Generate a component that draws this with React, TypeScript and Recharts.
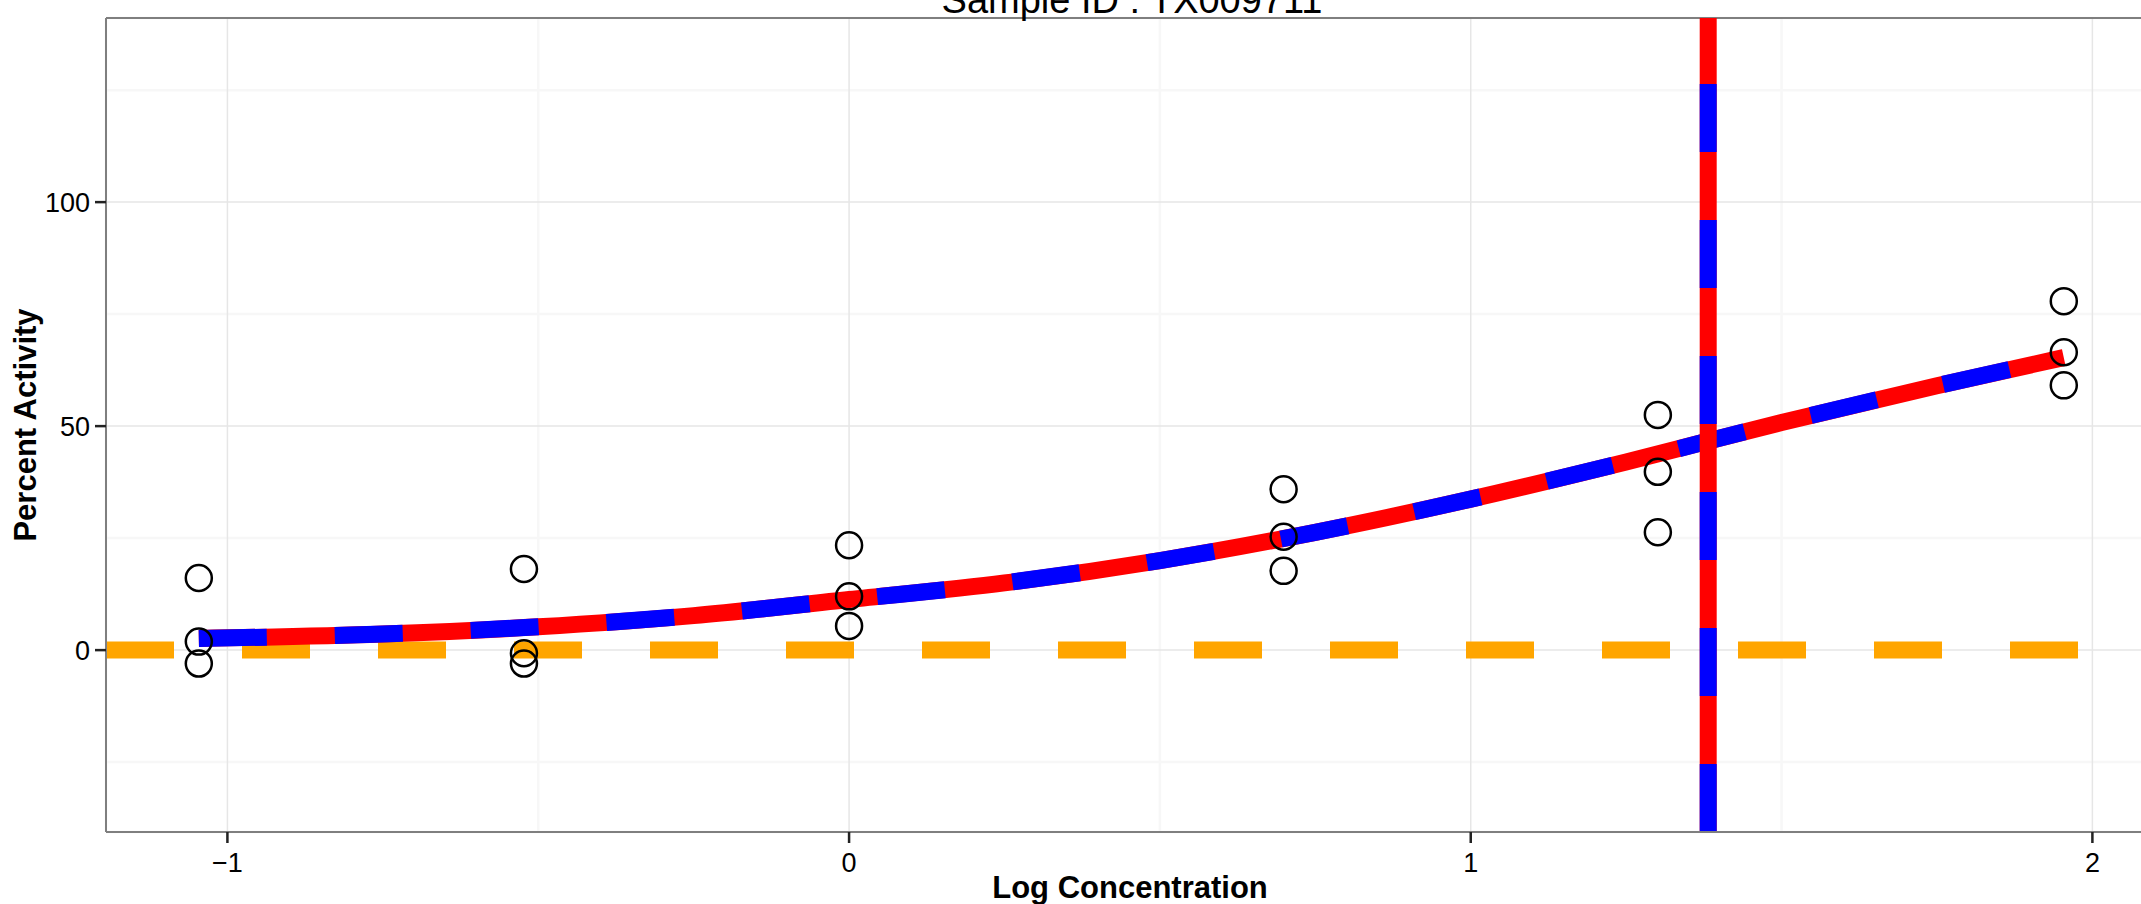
import { ComposedChart, Line, Scatter, XAxis, YAxis, CartesianGrid, ReferenceLine } from 'recharts';

// tested concentrations (log10) and the three replicate readings at each
const logConc = [-1.046, -0.523, 0, 0.699, 1.301, 1.954];
const rep1 = [16.1, 18.1, 23.4, 35.9, 52.5, 77.9];
const rep2 = [1.9, -0.7, 12.0, 25.3, 39.8, 66.5];
const rep3 = [-3.0, -3.0, 5.4, 17.7, 26.3, 59.1];

// fitted curve
const fitX = [-1.046, -0.75, -0.5, -0.25, 0, 0.25, 0.5, 0.75, 1, 1.25, 1.5, 1.75, 1.954];
const fitY = [2.6, 3.6, 5.2, 7.7, 11.3, 15.0, 20.0, 26.3, 33.7, 42.0, 50.8, 59.0, 65.3];

const ac50 = 1.382;
const baselineLevel = 0;

const xTicks = [-1, 0, 1, 2];
const xMinorTicks = [-0.5, 0.5, 1.5];
const yTicks = [0, 50, 100];
const yMinorTicks = [-25, 25, 75, 125];

const xDomain: [number, number] = [-1.1953, 2.0991];
const yDomain: [number, number] = [-40.6, 141.1];

const points = logConc.flatMap((x, i) => [
  { x, y: rep1[i] },
  { x, y: rep2[i] },
  { x, y: rep3[i] },
]);
const fitData = fitX.map((x, i) => ({ x, y: fitY[i] }));

const fmt = (v: number) => (v < 0 ? `\u2212${Math.abs(v)}` : String(v));

function XTitle({ viewBox }: any) {
  const { x, y, width } = viewBox;
  return (
    <text x={x + width / 2} y={y + 66} textAnchor="middle" fontSize={31} fontWeight="bold" fill="#000">
      Log Concentration
    </text>
  );
}

function YTitle({ viewBox }: any) {
  const { y, height } = viewBox;
  const cy = y + height / 2;
  return (
    <text transform={`translate(36,${cy}) rotate(-90)`} textAnchor="middle" fontSize={31} fontWeight="bold" fill="#000">
      Percent Activity
    </text>
  );
}

function Ring(props: any) {
  return <circle cx={props.cx} cy={props.cy} r={13} fill="none" stroke="#000" strokeWidth={2.5} />;
}

export default function App() {
  return (
    <div
      style={{
        position: 'fixed',
        left: 0,
        top: 0,
        width: 2141,
        height: 904,
        overflow: 'hidden',
        background: '#fff',
        fontFamily: '"Liberation Sans", Arial, sans-serif',
      }}
    >
      <ComposedChart width={2154} height={904} margin={{ top: 18, right: 0, bottom: 0, left: 0 }}>
        {/* minor grid on its own hidden axes */}
        <XAxis xAxisId="minor" type="number" dataKey="x" domain={xDomain} ticks={xMinorTicks} allowDataOverflow hide />
        <YAxis yAxisId="minor" type="number" dataKey="y" domain={yDomain} ticks={yMinorTicks} allowDataOverflow hide />
        <CartesianGrid xAxisId="minor" yAxisId="minor" stroke="#f7f7f7" strokeWidth={2.5} />
        <CartesianGrid stroke="#e6e6e6" strokeWidth={1.5} />

        <XAxis
          type="number"
          dataKey="x"
          domain={xDomain}
          ticks={xTicks}
          allowDataOverflow
          height={72}
          tickSize={11}
          tickMargin={10}
          tickFormatter={fmt}
          tick={{ fill: '#000', fontSize: 27 }}
          axisLine={{ stroke: '#7f7f7f', strokeWidth: 2 }}
          tickLine={{ stroke: '#222', strokeWidth: 2.5 }}
          label={<XTitle />}
        />
        <YAxis
          type="number"
          dataKey="y"
          domain={yDomain}
          ticks={yTicks}
          allowDataOverflow
          width={106}
          tickSize={11}
          tickMargin={5}
          tickFormatter={fmt}
          tick={{ fill: '#000', fontSize: 27 }}
          axisLine={{ stroke: '#7f7f7f', strokeWidth: 2 }}
          tickLine={{ stroke: '#222', strokeWidth: 2.5 }}
          label={<YTitle />}
        />

        {/* top panel border */}
        <ReferenceLine y={yDomain[1]} stroke="#7f7f7f" strokeWidth={2} ifOverflow="visible" />

        <ReferenceLine
          segment={[{ x: xDomain[0], y: baselineLevel }, { x: xDomain[1], y: baselineLevel }]}
          stroke="#FFA500"
          strokeWidth={17}
          strokeDasharray="68 68"
          ifOverflow="visible"
        />

        <Line data={fitData} dataKey="y" type="monotone" stroke="#FF0000" strokeWidth={17} dot={false} activeDot={false} isAnimationActive={false} />
        <Line data={fitData} dataKey="y" type="monotone" stroke="#0000FF" strokeWidth={17} strokeDasharray="68 68" dot={false} activeDot={false} isAnimationActive={false} />

        <ReferenceLine
          segment={[{ x: ac50, y: yDomain[0] }, { x: ac50, y: yDomain[1] }]}
          stroke="#FF0000"
          strokeWidth={17}
          ifOverflow="visible"
        />
        <ReferenceLine
          segment={[{ x: ac50, y: yDomain[0] }, { x: ac50, y: yDomain[1] }]}
          stroke="#0000FF"
          strokeWidth={17}
          strokeDasharray="68 68"
          ifOverflow="visible"
        />

        <Scatter data={points} dataKey="y" shape={<Ring />} isAnimationActive={false} />
      </ComposedChart>

      {/* title sits partly above the page edge, as in the source image */}
      <svg width={2141} height={60} style={{ position: 'absolute', left: 0, top: 0 }}>
        <text x={1132} y={13} textAnchor="middle" fontSize={38} fill="#000">
          Sample ID : TX009711
        </text>
      </svg>
    </div>
  );
}
